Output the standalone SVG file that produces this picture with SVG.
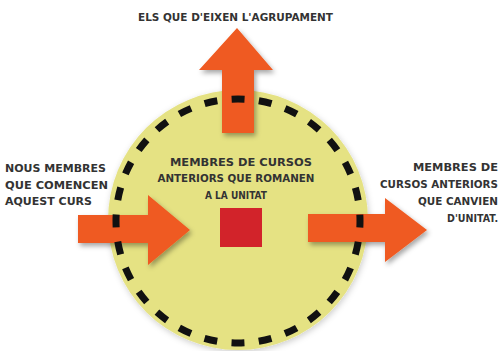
<svg xmlns="http://www.w3.org/2000/svg" width="501" height="351" viewBox="0 0 501 351">
  <defs>
    <filter id="shadow" x="-20%" y="-20%" width="150%" height="150%">
      <feDropShadow dx="2" dy="3" stdDeviation="2.5" flood-color="#000" flood-opacity="0.35"/>
    </filter>
    <filter id="soft" x="-10%" y="-10%" width="120%" height="120%">
      <feDropShadow dx="1" dy="2" stdDeviation="3" flood-color="#000" flood-opacity="0.2"/>
    </filter>
    <style>
      .lbl { font-family: "DejaVu Sans", "Liberation Sans", sans-serif; font-weight: bold; font-size: 10.5px; fill: #333333; }
      .arrow { fill: #EF5A20; filter: url(#shadow); }
      .ring { fill: none; stroke: #111; stroke-width: 7; stroke-dasharray: 13 14.37; stroke-dashoffset: 6.5; }
    </style>
  </defs>
  <rect width="501" height="351" fill="#ffffff"/>

  <g id="group-circle">
    <circle cx="238" cy="220" r="130" fill="#E5E283" filter="url(#soft)"/>
  </g>

  <g id="connectors">
    <path id="arrow-out-top" class="arrow" d="M222,133 L222,70 L199,70 L237,28 L273,70 L254,70 L254,133 Z"/>
    <path id="arrow-in-left" class="arrow" d="M78,215 L148,215 L148,195 L190,230 L148,265 L148,243 L78,243 Z"/>
    <path id="arrow-out-right" class="arrow" d="M308,214 L385,214 L385,198 L427,230 L385,262 L385,242 L308,242 Z"/>
  </g>

  <g id="ring">
    <circle class="ring" cx="238" cy="221" r="122"/>
  </g>

  <g id="node-remain">
    <rect x="220" y="208" width="42" height="39" fill="#D2232A"/>
    <text class="lbl" text-anchor="middle" x="241" y="166" textLength="142" lengthAdjust="spacingAndGlyphs">MEMBRES DE CURSOS</text>
    <text class="lbl" text-anchor="middle" x="236" y="182" textLength="157" lengthAdjust="spacingAndGlyphs">ANTERIORS QUE ROMANEN</text>
    <text class="lbl" text-anchor="middle" x="236" y="199" textLength="62" lengthAdjust="spacingAndGlyphs">A LA UNITAT</text>
  </g>

  <g id="node-leave">
    <text class="lbl" x="138" y="21" textLength="195" lengthAdjust="spacingAndGlyphs">ELS QUE D'EIXEN L'AGRUPAMENT</text>
  </g>

  <g id="node-new">
    <text class="lbl" x="5" y="172" textLength="101" lengthAdjust="spacingAndGlyphs">NOUS MEMBRES</text>
    <text class="lbl" x="5" y="189" textLength="103" lengthAdjust="spacingAndGlyphs">QUE COMENCEN</text>
    <text class="lbl" x="5" y="205" textLength="87" lengthAdjust="spacingAndGlyphs">AQUEST CURS</text>
  </g>

  <g id="node-change">
    <text class="lbl" text-anchor="end" x="498" y="171" textLength="85" lengthAdjust="spacingAndGlyphs">MEMBRES DE</text>
    <text class="lbl" text-anchor="end" x="498" y="188" textLength="118" lengthAdjust="spacingAndGlyphs">CURSOS ANTERIORS</text>
    <text class="lbl" text-anchor="end" x="498" y="205" textLength="80" lengthAdjust="spacingAndGlyphs">QUE CANVIEN</text>
    <text class="lbl" text-anchor="end" x="498" y="222" textLength="51" lengthAdjust="spacingAndGlyphs">D'UNITAT.</text>
  </g>
</svg>
